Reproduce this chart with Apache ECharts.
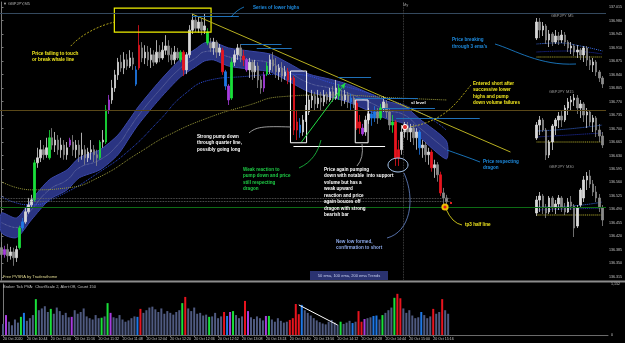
<!DOCTYPE html>
<html><head><meta charset="utf-8">
<script src="https://cdn.jsdelivr.net/npm/echarts@6/dist/echarts.min.js"></script>
<style>html,body{margin:0;padding:0;background:#000;}#c{width:625px;height:343px;}</style>
</head><body><div id="c"></div>
<script>
// ---------- data ----------
const timeLabels = ["20 Oct 2020","20 Oct 10:44","20 Oct 11:00","20 Oct 11:16","20 Oct 11:32","20 Oct 11:48","20 Oct 12:04","20 Oct 12:20","20 Oct 12:36","20 Oct 12:52","20 Oct 13:08","20 Oct 13:24","20 Oct 13:40","20 Oct 13:56","20 Oct 14:12","20 Oct 14:28","20 Oct 14:44","20 Oct 15:00","20 Oct 15:16"];
const priceTicks = [136.315,136.35,136.385,136.42,136.455,136.49,136.525,136.56,136.595,136.63,136.665,136.7,136.735,136.77,136.805,136.84,136.875,136.91,136.945,136.98,137.015];
const volumeTicks = [0,1152];
const lastPrice = 136.509;
// [open, close, low, high]
const ohlc = [
[136.391,136.373,136.365,136.406],[136.373,136.386,136.365,136.396],[136.386,136.370,136.354,136.401],[136.370,136.380,136.360,136.393],[136.380,136.365,136.344,136.391],
[136.365,136.386,136.354,136.396],[136.391,136.442,136.386,136.448],[136.442,136.458,136.435,136.468],[136.458,136.484,136.453,136.494],[136.484,136.502,136.479,136.520],
[136.502,136.515,136.494,136.528],[136.515,136.611,136.510,136.619],[136.611,136.624,136.598,136.650],[136.624,136.645,136.613,136.670],[136.645,136.632,136.619,136.657],
[136.632,136.650,136.624,136.676],[136.624,136.676,136.619,136.696],[136.676,136.657,136.645,136.701],[136.657,136.670,136.639,136.691],[136.670,136.645,136.632,136.683],
[136.645,136.657,136.624,136.676],[136.657,136.632,136.619,136.670],[136.632,136.650,136.619,136.665],[136.657,136.670,136.652,136.676],[136.665,136.645,136.629,136.683],
[136.645,136.657,136.624,136.670],[136.657,136.632,136.613,136.670],[136.632,136.645,136.619,136.689],[136.645,136.624,136.606,136.657],[136.624,136.639,136.613,136.650],
[136.639,136.645,136.619,136.670],[136.645,136.632,136.613,136.657],[136.632,136.624,136.603,136.645],[136.624,136.665,136.619,136.670],[136.665,136.670,136.650,136.696],
[136.665,136.748,136.660,136.761],[136.748,136.774,136.738,136.787],[136.774,136.805,136.764,136.826],[136.805,136.839,136.795,136.852],[136.839,136.872,136.826,136.883],
[136.872,136.857,136.847,136.891],[136.857,136.878,136.841,136.898],[136.878,136.862,136.852,136.893],[136.862,136.883,136.857,136.903],[136.883,136.867,136.852,136.898],
[136.852,136.815,136.810,136.862],[136.857,136.916,136.852,136.968],[136.909,136.883,136.872,136.924],[136.883,136.898,136.867,136.916],[136.898,136.878,136.862,136.914],
[136.878,136.891,136.857,136.909],[136.891,136.872,136.862,136.903],[136.872,136.898,136.867,136.929],[136.898,136.883,136.872,136.916],[136.883,136.903,136.878,136.924],
[136.903,136.914,136.891,136.942],[136.914,136.891,136.872,136.929],[136.891,136.878,136.865,136.909],[136.878,136.898,136.867,136.914],[136.898,136.883,136.878,136.909],
[136.878,136.898,136.872,136.903],[136.898,136.852,136.836,136.903],[136.852,136.891,136.841,136.898],[136.891,136.955,136.883,136.968],[136.955,136.981,136.945,136.997],
[136.981,136.960,136.950,136.994],[136.960,136.976,136.948,136.989],[136.976,136.955,136.942,136.986],[136.955,136.966,136.945,136.997],[136.950,136.922,136.916,136.960],
[136.922,136.909,136.898,136.935],[136.909,136.924,136.891,136.935],[136.924,136.898,136.883,136.929],[136.898,136.909,136.888,136.919],[136.903,136.847,136.839,136.909],
[136.847,136.810,136.800,136.852],[136.810,136.774,136.761,136.815],[136.779,136.872,136.774,136.883],[136.872,136.891,136.862,136.903],[136.891,136.909,136.878,136.919],
[136.909,136.888,136.872,136.919],[136.888,136.878,136.862,136.903],[136.878,136.852,136.847,136.883],[136.852,136.872,136.831,136.883],[136.872,136.847,136.826,136.878],
[136.847,136.862,136.831,136.878],[136.862,136.826,136.805,136.872],[136.826,136.805,136.790,136.836],[136.805,136.839,136.795,136.847],[136.862,136.841,136.836,136.872],
[136.852,136.878,136.841,136.891],[136.878,136.862,136.847,136.898],[136.862,136.847,136.831,136.883],[136.847,136.857,136.826,136.867],[136.857,136.836,136.821,136.872],
[136.836,136.847,136.826,136.862],[136.847,136.826,136.815,136.857],[136.826,136.831,136.815,136.841],[136.831,136.696,136.683,136.836],[136.696,136.717,136.670,136.748],
[136.709,136.689,136.676,136.727],[136.691,136.722,136.681,136.735],[136.722,136.743,136.717,136.761],[136.743,136.774,136.735,136.787],[136.774,136.784,136.753,136.800],
[136.784,136.764,136.748,136.795],[136.764,136.779,136.753,136.800],[136.779,136.769,136.748,136.795],[136.769,136.787,136.758,136.800],[136.787,136.774,136.764,136.795],
[136.774,136.795,136.769,136.805],[136.795,136.779,136.769,136.810],[136.779,136.805,136.774,136.826],[136.805,136.784,136.774,136.815],[136.784,136.774,136.758,136.800],
[136.774,136.787,136.764,136.800],[136.787,136.769,136.753,136.795],[136.769,136.779,136.748,136.790],[136.779,136.764,136.753,136.784],[136.766,136.701,136.696,136.774],
[136.701,136.717,136.686,136.735],[136.701,136.686,136.681,136.712],[136.691,136.722,136.681,136.733],[136.722,136.738,136.712,136.753],[136.738,136.727,136.707,136.748],
[136.727,136.743,136.717,136.758],[136.743,136.727,136.712,136.753],[136.727,136.753,136.722,136.764],[136.753,136.769,136.743,136.784],[136.764,136.743,136.727,136.774],
[136.743,136.709,136.696,136.753],[136.709,136.717,136.689,136.735],[136.717,136.624,136.603,136.722],[136.624,136.645,136.603,136.670],[136.645,136.691,136.632,136.709],
[136.691,136.707,136.676,136.717],[136.707,136.691,136.670,136.717],[136.691,136.701,136.665,136.712],[136.701,136.676,136.657,136.712],[136.676,136.691,136.645,136.701],
[136.691,136.650,136.632,136.696],[136.650,136.657,136.624,136.670],[136.657,136.632,136.613,136.665],[136.632,136.639,136.606,136.650],[136.639,136.598,136.588,136.645],
[136.598,136.606,136.572,136.619],[136.606,136.580,136.562,136.613],[136.580,136.533,136.525,136.588],[136.533,136.520,136.497,136.546],[136.520,136.510,136.502,136.528]
];
const volume = [
250,450,300,220,350,280,410,500,320,380,
450,810,560,600,650,520,590,480,620,540,
450,500,400,410,560,480,520,600,420,380,
350,450,380,390,420,720,500,400,380,450,
350,300,330,380,420,410,590,500,560,620,
640,580,520,600,480,540,500,460,520,560,
720,860,600,540,620,480,500,440,460,410,
420,500,380,420,520,430,520,540,450,380,
420,770,540,400,360,420,380,330,430,430,
350,300,380,320,280,300,340,380,700,470,
680,560,500,440,380,330,290,260,240,300,
340,280,230,300,250,280,320,270,300,540,
300,360,380,400,430,440,350,450,500,560,
620,840,930,830,600,500,560,440,380,400,
520,450,380,420,590,480,520,810,560,480];
const greenBars = [6,11,16,33,35,60,69,77,89,113,127,131];
const redBars = [46,61,74,81,96,97,98,99,119,120,132,133,144,147];
const blueBars = [7,45,75,100,117,124,125,140];
const purpleBars = [1,23,36,76,82,88,121];

const dragonIdx = [0,5,10,16,22,26,33,39,43,46,53,60,65,68,71,76,83,90,96,103,110,116,123,129,135,140,149];
const dragonHigh = [136.481,136.468,136.515,136.567,136.593,136.624,136.645,136.683,136.725,136.758,136.823,136.880,136.906,136.922,136.924,136.909,136.901,136.893,136.870,136.841,136.828,136.815,136.792,136.771,136.758,136.725,136.668];
const dragonLow = [136.430,136.417,136.463,136.515,136.541,136.572,136.593,136.632,136.678,136.712,136.777,136.834,136.860,136.875,136.878,136.862,136.854,136.847,136.823,136.795,136.782,136.769,136.746,136.725,136.712,136.678,136.621];
const dragonMid = [136.456,136.443,136.489,136.541,136.567,136.598,136.619,136.658,136.702,136.735,136.800,136.857,136.883,136.899,136.901,136.886,136.878,136.870,136.847,136.818,136.805,136.792,136.769,136.748,136.735,136.702,136.645];
const ema100Idx = [0,5,10,20,33,43,53,61,70,80,96,113,126,140,149];
const ema100 = [136.523,136.507,136.502,136.528,136.588,136.645,136.722,136.787,136.826,136.834,136.841,136.813,136.784,136.743,136.696];
const ema200Idx = [0,10,22,33,46,56,70,83,93,110,133,149];
const ema200 = [136.562,136.541,136.546,136.575,136.637,136.683,136.730,136.761,136.782,136.787,136.779,136.774];

// annotation anchors (bar index, price)
const trendLine = [[63.8,136.997],[170.5,136.639]];
const lowerHighs = [[63.8,79.5,136.992],[80.2,93.8,136.919],[85.5,97.2,136.909],[112.8,123.8,136.834],[118.5,139.5,136.779],[127.8,145.2,136.753],[132.2,160.2,136.727]];
const whaleBox = [[37.8,137.012],[70.2,136.950]];
const pumpBoxes = [[[96.8,136.849],[102.2,136.663]],[[118.5,136.774],[122.8,136.663]]];
const supportLine = [[97.8,136.655],[128.5,136.655]];
const reactionArrow = [[100.5,136.665],[115.2,136.818]];
const dayHigh = 136.999, quarterLine = 136.748, tp3Half = 136.497;
const dottedLevels = [136.520,136.512];
const myLineIdx = 134.5;
const volTrend = [[99,680],[112,226]];

// mini charts
const m5Ohlc = [[136.839,136.951,136.825,136.979],[136.951,136.895,136.839,136.979],[136.895,136.923,136.853,136.951],[136.923,136.825,136.797,136.937],[136.825,136.867,136.776,136.895],[136.867,136.811,136.783,136.881],[136.811,136.853,136.797,136.895],[136.853,136.825,136.790,136.881],[136.825,136.860,136.804,136.895],[136.860,136.811,136.783,136.881],[136.811,136.769,136.741,136.825],[136.769,136.783,136.727,136.811],[136.783,136.741,136.713,136.797],[136.741,136.755,136.699,136.790],[136.755,136.720,136.685,136.769],[136.720,136.769,136.671,136.783],[136.769,136.685,136.643,136.783],[136.685,136.650,136.615,136.713],[136.650,136.671,136.601,136.699],[136.671,136.601,136.573,136.685],[136.601,136.559,136.531,136.615],[136.559,136.517,136.489,136.573]];
const m15Ohlc = [[136.664,136.755,136.650,136.776],[136.755,136.790,136.685,136.818],[136.790,136.720,136.706,136.804],[136.720,136.545,136.510,136.734],[136.545,136.636,136.524,136.650],[136.636,136.748,136.580,136.762],[136.748,136.790,136.685,136.804],[136.790,136.818,136.734,136.846],[136.818,136.790,136.741,136.860],[136.790,136.874,136.776,136.895],[136.874,136.916,136.825,136.944],[136.916,136.930,136.860,136.958],[136.930,136.944,136.888,136.972],[136.944,136.874,136.832,136.965],[136.874,136.902,136.804,136.930],[136.902,136.825,136.776,136.916],[136.825,136.846,136.734,136.874],[136.846,136.776,136.748,136.860],[136.776,136.804,136.706,136.825],[136.804,136.720,136.671,136.818],[136.720,136.678,136.636,136.762],[136.678,136.615,136.594,136.706]];
const m30Ohlc = [[136.699,136.790,136.678,136.818],[136.790,136.818,136.706,136.846],[136.818,136.734,136.692,136.832],[136.734,136.699,136.664,136.762],[136.706,136.804,136.692,136.818],[136.804,136.734,136.706,136.818],[136.734,136.762,136.692,136.790],[136.762,136.804,136.720,136.825],[136.804,136.734,136.706,136.818],[136.734,136.706,136.685,136.769],[136.706,136.776,136.699,136.804],[136.776,136.748,136.720,136.818],[136.748,136.594,136.531,136.762],[136.608,136.734,136.594,136.755],[136.755,136.860,136.741,136.874],[136.804,136.930,136.776,136.958],[136.930,136.958,136.860,136.986],[136.958,136.902,136.874,137.000],[136.902,136.846,136.818,136.930],[136.846,136.804,136.776,136.888],[136.804,136.734,136.706,136.832],[136.734,136.650,136.608,136.755]];
const m5Emas = [[[0,7,14,21],[136.797,136.804,136.783,136.748]],[[0,10,21],[136.741,136.748,136.727]],[[0,21],[136.706,136.706]]];
const m15Emas = [[[0,10,21],[136.713,136.727,136.755]],[[0,21],[136.671,136.699]],[[0,21],[136.636,136.636]]];
const m30Emas = [[[0,11,21],[136.741,136.748,136.776]],[[0,21],[136.720,136.734]],[[0,21],[136.685,136.685]]];

// ---------- build ----------
const COL = {g:'#19e03a', r:'#e8141e', b:'#1e78e6', p:'#a83ce0'};
function pvaColor(i){
  if (greenBars.includes(i)) return COL.g;
  if (redBars.includes(i)) return COL.r;
  if (blueBars.includes(i)) return COL.b;
  if (purpleBars.includes(i)) return COL.p;
  return null;
}
const NSLOT = 203;
const cats = Array.from({length:NSLOT}, (_, i) => String(i));
const miniCats = Array.from({length:22}, (_, i) => String(i));
const FONT = '"Liberation Sans", Arial, sans-serif';
const pair = (idx, vals) => idx.map((x, k) => [x, vals[k]]);

const candleData = ohlc.map((d, i) => {
  const c = pvaColor(i);
  const it = {value: d};
  if (c) it.itemStyle = {color:c, color0:c, borderColor:c, borderColor0:c};
  return it;
});
const volData = volume.map((v, i) => ({value:v, itemStyle:{color: pvaColor(i) || '#4f5a80'}}));

function seg(a, b, style, toExtra) {
  return [{coord:a, lineStyle:style}, Object.assign({coord:b}, toExtra || {})];
}
const blueLine = {color:'#1f70b8', width:1, type:'solid'};
const mlData = [];
mlData.push(seg([-0.5,dayHigh],[202.5,dayHigh],{color:'#34495e',width:1,type:'solid'}));
mlData.push(seg([-0.5,quarterLine],[202.5,quarterLine],{color:'#5a4818',width:1,type:'solid'}));
mlData.push(seg([-0.5,tp3Half],[202.5,tp3Half],{color:'#0d6b14',width:1,type:'solid'}));
dottedLevels.forEach(p => mlData.push(seg([-0.5,p],[150.5,p],{color:'#707070',width:0.8,type:'dotted'})));
mlData.push(seg([myLineIdx,137.028],[myLineIdx,136.3072],{color:'#555',width:0.8,type:'dotted'}));
mlData.push(seg(trendLine[0], trendLine[1], {color:'#b8b020', width:1, type:'solid'}));
lowerHighs.forEach(h => mlData.push(seg([h[0],h[2]],[h[1],h[2]], blueLine)));
mlData.push(seg(supportLine[0], supportLine[1], {color:'#ffffff', width:1, type:'solid'}));
mlData.push(seg(reactionArrow[0], reactionArrow[1], {color:'#22dd44', width:1, type:'solid'}, {symbol:'arrow', symbolSize:[4,6]}));
mlData.push({yAxis:lastPrice, lineStyle:{opacity:0}, label:{show:true, position:'end', formatter:lastPrice.toFixed(3), backgroundColor:'#c8c8c8', color:'#000', fontSize:3.6, padding:[0.5,1.5], distance:2}});

const maData = [
  [{coord:whaleBox[0], itemStyle:{color:'rgba(0,0,0,0)', borderColor:'#f0f000', borderWidth:1.2}}, {coord:whaleBox[1]}]
].concat(pumpBoxes.map(b => [{coord:b[0], itemStyle:{color:'rgba(0,0,0,0)', borderColor:'#ffffff', borderWidth:1}}, {coord:b[1]}]));

const candleStyle = {color:'#d8d8d8', color0:'#8a8a8a', borderColor:'#d8d8d8', borderColor0:'#8a8a8a', borderWidth:0.8};

function miniSeries(gi, data, emas) {
  const out = [{type:'candlestick', xAxisIndex:4+gi, yAxisIndex:2+gi, data:data, barWidth:2, itemStyle:candleStyle, z:4}];
  const cols = ['#3a6ee8','#2232b8','#c8c030'];
  emas.forEach((e, k) => out.push({type:'line', xAxisIndex:4+gi, yAxisIndex:2+gi, data:pair(e[0], e[1]), smooth:true, showSymbol:false, lineStyle:{color:cols[k], width:1, type:'dotted'}, z:3}));
  return out;
}

const labelInterval = (idx) => idx % 8 === 0 && idx <= 144;

const option = {
  backgroundColor:'#000',
  animation:false,
  textStyle:{fontFamily:FONT},
  grid:[
    {left:0, top:2, width:608, height:278},
    {left:0, top:284, width:608, height:51},
    {left:535, top:15, width:69, height:75},
    {left:535, top:90, width:69, height:75},
    {left:535, top:170, width:69, height:75}
  ],
  xAxis:[
    {type:'category', gridIndex:0, data:cats, show:false},
    {type:'value', gridIndex:0, min:-0.5, max:202.5, show:false},
    {type:'category', gridIndex:1, data:cats,
      axisLine:{show:true, lineStyle:{color:'#6a6a6a'}},
      axisTick:{show:true, interval:labelInterval, alignWithLabel:true, length:2, lineStyle:{color:'#6a6a6a'}},
      axisLabel:{interval:labelInterval, formatter:(v, idx) => timeLabels[idx/8], color:'#c8c8c8', fontSize:3.6, align:'left', margin:1.5}},
    {type:'value', gridIndex:1, min:-0.5, max:202.5, show:false},
    {type:'category', gridIndex:2, data:miniCats, show:false},
    {type:'category', gridIndex:3, data:miniCats, show:false},
    {type:'category', gridIndex:4, data:miniCats, show:false}
  ],
  yAxis:[
    {type:'value', gridIndex:0, min:136.3072, max:137.028, position:'right', splitLine:{show:false},
      axisLine:{show:true, lineStyle:{color:'#7a7a7a'}},
      axisTick:{show:true, customValues:priceTicks, length:2, lineStyle:{color:'#7a7a7a'}},
      axisLabel:{customValues:priceTicks, formatter:v => v.toFixed(3), color:'#c8c8c8', fontSize:3.6, margin:3}},
    {type:'value', gridIndex:1, min:0, max:1152, position:'right', splitLine:{show:false},
      axisLine:{show:true, lineStyle:{color:'#7a7a7a'}}, axisTick:{show:false},
      axisLabel:{customValues:volumeTicks, color:'#c8c8c8', fontSize:3.6, margin:3}},
    {type:'value', gridIndex:2, min:136.475, max:137.0, show:false, splitLine:{show:false}},
    {type:'value', gridIndex:3, min:136.475, max:137.0, show:false, splitLine:{show:false}},
    {type:'value', gridIndex:4, min:136.475, max:137.0, show:false, splitLine:{show:false}}
  ],
  series:[
    {type:'custom', xAxisIndex:1, yAxisIndex:0, data:[[0,136.6]], silent:true, z:1,
      renderItem:(params, api) => {
        const pts = [];
        dragonIdx.forEach((x, k) => pts.push(api.coord([x, dragonHigh[k]])));
        for (let k = dragonIdx.length - 1; k >= 0; k--) pts.push(api.coord([dragonIdx[k], dragonLow[k]]));
        return {type:'polygon', shape:{points:pts, smooth:0.25}, style:{fill:'#2a3482', stroke:'#3a47a8', lineWidth:1}};
      }},
    {type:'line', xAxisIndex:1, yAxisIndex:0, data:pair(dragonIdx, dragonMid), smooth:true, showSymbol:false, silent:true,
      lineStyle:{color:'#8c92b8', width:0.7, type:'dotted'}, z:2,
      markLine:{silent:true, symbol:['none','none'], label:{show:false}, data:mlData, z:6},
      markArea:{silent:true, data:maData, z:6}},
    {type:'line', xAxisIndex:1, yAxisIndex:0, data:pair(ema100Idx, ema100), smooth:true, showSymbol:false, silent:true,
      lineStyle:{color:'#2f4fe0', width:1, type:'dotted'}, z:2},
    {type:'line', xAxisIndex:1, yAxisIndex:0, data:pair(ema200Idx, ema200), smooth:true, showSymbol:false, silent:true,
      lineStyle:{color:'#9a9a3a', width:1, type:'dotted'}, z:2},
    {type:'candlestick', xAxisIndex:0, yAxisIndex:0, data:candleData, barWidth:2, itemStyle:candleStyle, z:4},
    {type:'bar', xAxisIndex:2, yAxisIndex:1, data:volData, barWidth:2, z:3,
      markLine:{silent:true, symbol:['none','none'], label:{show:false},
        data:[[{coord:volTrend[0], lineStyle:{color:'#ffffff', width:1, type:'solid'}},{coord:volTrend[1]}]]}}
  ].concat(miniSeries(0, m5Ohlc, m5Emas), miniSeries(1, m15Ohlc, m15Emas), miniSeries(2, m30Ohlc, m30Emas))
};

function txt(x, y, text, fill, size, bold, lh) {
  return {type:'text', x:x, y:y, z:100, silent:true,
    style:{text:text, fill:fill, fontSize:size, fontWeight:bold ? 'bold' : 'normal', fontFamily:FONT, lineHeight:lh || size*1.4, verticalAlign:'top'}};
}
function curve(x1,y1,c1x,c1y,c2x,c2y,x2,y2,stroke,dash){
  const shape = {x1:x1,y1:y1,x2:x2,y2:y2,cpx1:c1x,cpy1:c1y};
  if (c2x !== null) { shape.cpx2 = c2x; shape.cpy2 = c2y; }
  return {type:'bezierCurve', z:90, silent:true, shape:shape, style:{stroke:stroke, lineWidth:0.8, fill:null, lineDash:dash || null}};
}
const YEL = '#f0e61e', BLU = '#1e8ce0', GRN = '#1ecc46';
option.graphic = [
  {type:'rect', z:80, silent:true, shape:{x:0, y:280.5, width:625, height:2}, style:{fill:'#8c8c8c'}},
  txt(3, 1.5, '\u25BC GBPJPY,M5', '#b0b0b0', 4, false),
  txt(253, 4.5, 'Series of lower highs', BLU, 4.6, true),
  txt(32, 50, 'Price failing to touch\nor break whale line', YEL, 4.7, true, 6.6),
  txt(197, 133, 'Strong pump down\nthrough quarter line,\npossibly going long', '#ffffff', 4.6, true, 6.6),
  txt(243, 166, 'Weak reaction to\npump down and price\nstill respecting\ndragon', GRN, 4.6, true, 6.5),
  txt(324, 166, 'Price again pumping\ndown with notable  into support\nvolume but has a\nweak upward\nreaction and price\nagain bouces off\ndragon with strong\nbearish bar', '#ffffff', 4.6, true, 6.5),
  txt(336, 238, 'New low formed,\nconfirmation to short', '#8ca8e8', 4.6, true, 6.5),
  txt(473, 80, 'Entered short after\nsuccessive lower\nhighs and pump\ndown volume failures', YEL, 4.6, true, 6.5),
  txt(452, 36, "Price breaking\nthrough 3 ema's", BLU, 4.6, true, 7),
  txt(483, 158, 'Price respecting\ndragon', BLU, 4.6, true, 6.5),
  txt(465, 222, 'tp3 half line', YEL, 4.6, true),
  txt(411, 100, 'sl level', '#ffffff', 4.4, true),
  txt(403, 2, 'My', '#9a9a9a', 4, false),
  txt(551, 13.5, 'GBPJPY M5', '#9a9a9a', 4, false),
  txt(549, 89.5, 'GBPJPY M15', '#9a9a9a', 4, false),
  txt(549, 164.5, 'GBPJPY M30', '#9a9a9a', 4, false),
  txt(3, 274, 'Free PVSRA by Traderathome', '#e0d890', 4, false),
  txt(3, 284, 'Broker Tick PVA:  ChartScale 2, Alert:Off, Count 150', '#c0c0c0', 4, false),
  {type:'rect', z:85, silent:true, shape:{x:310, y:271, width:78, height:9}, style:{fill:'#2a3270'}},
  {type:'text', z:100, silent:true, x:349, y:275.5, style:{text:'50 ema, 100 ema, 200 ema Trends', fill:'#c8d0f0', fontSize:4, fontFamily:FONT, align:'center', verticalAlign:'middle'}},
  curve(115,22,100,25,80,35,70,47,'#d8c81e',[2,1.5]),
  curve(231,17,235,12,239,9,244,7,BLU),
  curve(249,133,256,127,262,126,291,127,'#c0c0c0'),
  curve(299,168,312,162,318,152,321,140,GRN),
  curve(357,166,364,158,null,null,362,144,'#c0c0c0'),
  curve(387,238,410,232,416,200,404,173,'#6a8ad0'),
  curve(471,85,458,100,448,120,410,127,'#d8c81e',[2,1.5]),
  curve(495,44,515,50,540,66,576,64,BLU),
  curve(447,150,458,154,470,158,480,162,BLU),
  curve(446,209,452,223,null,null,462,225,YEL),
  {type:'ellipse', z:91, silent:true, shape:{cx:398, cy:165, rx:10, ry:7}, style:{fill:'rgba(0,0,0,0)', stroke:'#a8c8f0', lineWidth:1}},
  {type:'circle', z:92, silent:true, shape:{cx:405, cy:127, r:2.6}, style:{fill:'#e03030', stroke:'#ffffff', lineWidth:1}},
  {type:'circle', z:92, silent:true, shape:{cx:445, cy:207, r:3.6}, style:{fill:'#f0c000'}},
  {type:'circle', z:93, silent:true, shape:{cx:445, cy:207, r:1.6}, style:{fill:'#e02020'}},
  {type:'rect', z:92, silent:true, shape:{x:450, y:202, width:2, height:2}, style:{fill:'#e02020'}}
];

const chart = echarts.init(document.getElementById('c'), null, {renderer:'canvas'});
chart.setOption(option);
</script>
</body></html>
